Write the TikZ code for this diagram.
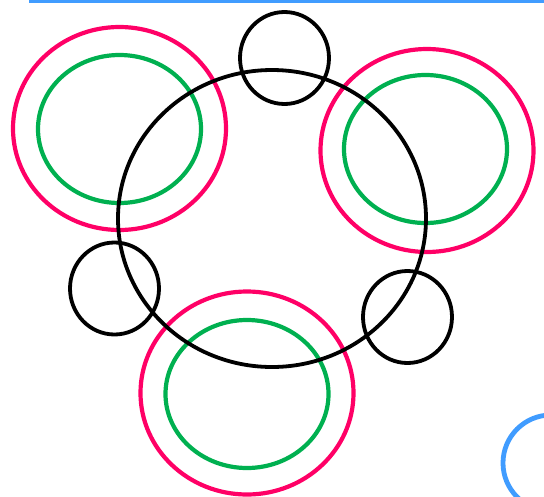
\documentclass[tikz,border=0pt]{standalone}
\usepackage{xcolor}
\usepackage{tikz}
\usetikzlibrary{shapes.geometric}
\definecolor{ink}{HTML}{000000}
\definecolor{rose}{HTML}{FF0066}
\definecolor{leaf}{HTML}{00B050}
\definecolor{sky}{HTML}{409CFF}
\tikzset{
  ring/.style={ellipse,inner sep=0pt,line width=4.2pt},
  outerring/.style={ring,draw=rose,minimum width=213pt,minimum height=203pt},
  innerring/.style={ring,draw=leaf,minimum width=163pt,minimum height=148pt},
  bigring/.style={ring,draw=ink,line width=3.8pt,minimum width=308pt,minimum height=297pt},
  smallring/.style={ring,draw=ink,line width=3.8pt,minimum width=89pt,minimum height=92pt},
}

\begin{document}
\begin{tikzpicture}[x=1pt,y=-1pt]
  \path[use as bounding box] (0,0) rectangle (544,496);
  \begin{scope}
    \clip (0,0) rectangle (544,496);
    \draw[sky,line width=3pt] (29,1) -- (544,1);
    \draw[sky,line width=4.8pt] (551,463) circle[radius=48];
  \end{scope}

  % rose / leaf pairs
  \node[outerring] (ptl) at (119.5,128.5) {};
  \node[innerring] (gtl) at (119.5,129) {};
  \node[outerring] (pr) at (427,150.5) {};
  \node[innerring] (gr) at (425.5,149) {};
  \node[outerring] (pb) at (247,393) {};
  \node[innerring] (gb) at (247,394) {};

  % black rings
  \node[bigring] (big) at (272,218.5) {};
  \node[smallring] (top) at (284.5,58) {};
  \node[smallring] (left) at (114.5,288.5) {};
  \node[smallring] (right) at (407.5,317) {};
\end{tikzpicture}
\end{document}
